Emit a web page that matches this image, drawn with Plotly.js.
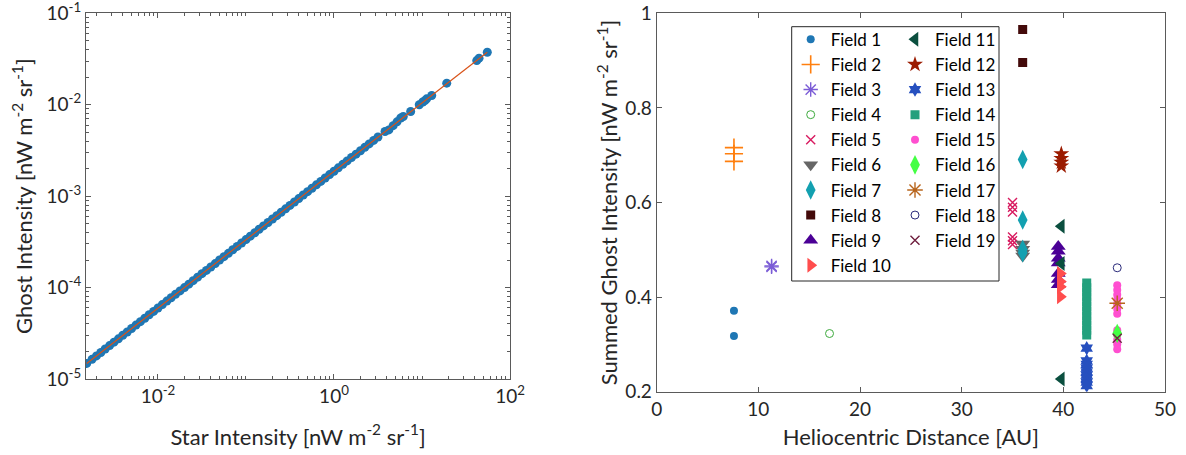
<!DOCTYPE html>
<html>
<head>
<meta charset="utf-8">
<script src="https://cdn.plot.ly/plotly-3.0.1.min.js"></script>
<style>html,body{margin:0;padding:0;background:#fff;}#chart{width:1186px;height:455px;}</style>
</head>
<body>
<div id="chart"></div>
<script>
// ---------- Left panel: star intensity vs ghost intensity ----------
const starIntensity = [0.00155,0.00178,0.00200,0.00224,0.00251,0.00282,0.00316,0.00355,0.00398,0.00447,
  0.00501,0.00562,0.00631,0.00708,0.00794,0.00891,0.0100,0.0112,0.0126,0.0141,0.0158,0.0178,0.0200,0.0224,
  0.0251,0.0282,0.0316,0.0355,0.0398,0.0447,0.0501,0.0562,0.0631,0.0708,0.0794,0.0891,0.100,0.112,0.126,
  0.141,0.158,0.178,0.200,0.224,0.251,0.282,0.316,0.355,0.398,0.447,0.501,0.562,0.631,0.708,0.794,0.891,
  1.00,1.12,1.26,1.41,1.58,1.78,2.00,2.24,2.51,2.82,3.16,3.80,4.2,4.7,5.2,5.73,6.13,7.44,9.31,10.2,10.8,
  11.3,12.9,19.1,41.9,44.5,55.2];
const ghostIntensity = [1.48e-5,1.64e-5,1.79e-5,1.95e-5,2.13e-5,2.32e-5,2.53e-5,2.75e-5,3.01e-5,3.27e-5,
  3.57e-5,3.89e-5,4.24e-5,4.62e-5,5.04e-5,5.49e-5,5.98e-5,6.52e-5,7.11e-5,7.75e-5,8.44e-5,9.20e-5,1.00e-4,
  1.09e-4,1.19e-4,1.30e-4,1.42e-4,1.54e-4,1.68e-4,1.83e-4,2.00e-4,2.18e-4,2.37e-4,2.59e-4,2.82e-4,3.07e-4,
  3.35e-4,3.65e-4,3.98e-4,4.34e-4,4.73e-4,5.15e-4,5.62e-4,6.12e-4,6.67e-4,7.27e-4,7.92e-4,8.63e-4,9.41e-4,
  1.03e-3,1.12e-3,1.22e-3,1.33e-3,1.45e-3,1.58e-3,1.72e-3,1.87e-3,2.04e-3,2.23e-3,2.43e-3,2.65e-3,2.88e-3,
  3.14e-3,3.42e-3,3.73e-3,4.07e-3,4.43e-3,5.09e-3,5.3e-3,5.9e-3,6.5e-3,7.15e-3,7.43e-3,8.43e-3,9.98e-3,
  1.07e-2,1.11e-2,1.16e-2,1.26e-2,1.72e-2,3.04e-2,3.23e-2,3.75e-2];
const fitStar = [0.00155, 55.2];
const fitGhost = [1.48e-5, 3.75e-2];

const leftXTickVals = [0.01, 1, 100];
const leftXTickText = ['10<sup>-2</sup>', '10<sup>0</sup>', '10<sup>2</sup>'];
const leftYTickVals = [1e-5, 1e-4, 1e-3, 1e-2, 1e-1];
const leftYTickText = ['10<sup>-5</sup>', '10<sup>-4</sup>', '10<sup>-3</sup>', '10<sup>-2</sup>', '10<sup>-1</sup>'];

// ---------- Right panel: summed ghost intensity by field ----------
const fieldNames = ['Field 1','Field 2','Field 3','Field 4','Field 5','Field 6','Field 7','Field 8','Field 9','Field 10',
  'Field 11','Field 12','Field 13','Field 14','Field 15','Field 16','Field 17','Field 18','Field 19'];
const field1 = {x: [7.6, 7.6], y: [0.371, 0.318]};
const field2 = {x: [7.6, 7.6, 7.6], y: [0.716, 0.703, 0.687]};
const field3 = {x: [11.3, 11.3], y: [0.466, 0.464]};
const field4 = {x: [17.0], y: [0.323]};
const field5 = {x: [35.0, 35.0, 35.0, 35.0, 35.0, 35.0], y: [0.600, 0.590, 0.580, 0.527, 0.519, 0.511]};
const field6 = {x: [36.0, 36.0, 36.0, 36.0], y: [0.512, 0.501, 0.493, 0.487]};
const field7 = {x: [36.0, 36.0, 36.0, 36.0], y: [0.691, 0.563, 0.501, 0.494]};
const field8 = {x: [36.0, 36.0], y: [0.966, 0.896]};
const field9 = {x: [39.5, 39.5, 39.5, 39.5, 39.5, 39.5, 39.5], y: [0.507, 0.497, 0.482, 0.472, 0.450, 0.437, 0.426]};
const field10 = {x: [39.7, 39.7, 39.7, 39.7], y: [0.450, 0.433, 0.422, 0.401]};
const field11 = {x: [39.8, 39.8, 39.8], y: [0.550, 0.471, 0.227]};
const field12 = {x: [39.8, 39.8, 39.8, 39.8], y: [0.703, 0.693, 0.685, 0.677]};
const field13 = {x: [42.3, 42.3, 42.3, 42.3, 42.3, 42.3, 42.3, 42.3, 42.3], y: [0.292, 0.265, 0.258, 0.250, 0.242, 0.235, 0.228, 0.220, 0.213]};
const field14 = {x: [42.3, 42.3, 42.3, 42.3, 42.3, 42.3, 42.3, 42.3, 42.3, 42.3, 42.3, 42.3], y: [0.430, 0.420, 0.410, 0.400, 0.390, 0.380, 0.370, 0.360, 0.350, 0.340, 0.330, 0.320]};
const field15 = {x: [45.3, 45.3, 45.3, 45.3, 45.3, 45.3, 45.3, 45.3, 45.3, 45.3, 45.3, 45.3], y: [0.425, 0.415, 0.405, 0.395, 0.385, 0.375, 0.365, 0.330, 0.320, 0.310, 0.300, 0.290]};
const field16 = {x: [45.3], y: [0.323]};
const field17 = {x: [45.3], y: [0.387]};
const field18 = {x: [45.3], y: [0.462]};
const field19 = {x: [45.3], y: [0.313]};
const fieldData = [field1, field2, field3, field4, field5, field6, field7, field8, field9, field10,
  field11, field12, field13, field14, field15, field16, field17, field18, field19];

const rightYTickVals = [0.2, 0.4, 0.6, 0.8, 1];
const rightYTickText = ['0.2', '0.4', '0.6', '0.8', '1'];
const rightXTickVals = [0, 10, 20, 30, 40, 50];

// marker styles (presentation)
const fieldStyles = [
  {symbol: 'circle', color: '#1f77b4', size: 8},
  {symbol: 'cross-thin-open', color: '#FF7F0E', size: 13, lw: 1.6},
  {symbol: 'asterisk-open', color: '#7B5CD6', size: 12, lw: 1.4},
  {symbol: 'circle-open', color: '#3DAA3D', size: 8, lw: 1},
  {symbol: 'x-thin-open', color: '#D81B60', size: 9, lw: 1.4},
  {symbol: 'triangle-down', color: '#666666', size: 13},
  {symbol: 'diamond-tall', color: '#13A0B0', size: 14},
  {symbol: 'square', color: '#430A0A', size: 9},
  {symbol: 'triangle-up', color: '#4B0096', size: 13},
  {symbol: 'triangle-right', color: '#FF4D4D', size: 13},
  {symbol: 'triangle-left', color: '#0B4F3F', size: 13},
  {symbol: 'star', color: '#9B1B00', size: 12},
  {symbol: 'hexagram', color: '#2650BF', size: 11},
  {symbol: 'square', color: '#23A07D', size: 9},
  {symbol: 'circle', color: '#FF4FD0', size: 8},
  {symbol: 'diamond-tall', color: '#44FF44', size: 14},
  {symbol: 'asterisk-open', color: '#B8651D', size: 13, lw: 1.4},
  {symbol: 'circle-open', color: '#2A2A7A', size: 8, lw: 1},
  {symbol: 'x-thin-open', color: '#702040', size: 9, lw: 1.4}
];

const FONT = 'Lato, "Open Sans", sans-serif';
const TXT = '#262626';
const AX = '#5a5a5a';
const TICK_SIZE = 19;
const TITLE_SIZE = 22;

const traces = [];
traces.push({x: starIntensity, y: ghostIntensity, type: 'scatter', mode: 'markers', xaxis: 'x', yaxis: 'y',
  marker: {color: '#1f77b4', size: 9}, showlegend: false, hoverinfo: 'skip'});
traces.push({x: fitStar, y: fitGhost, type: 'scatter', mode: 'lines', xaxis: 'x', yaxis: 'y',
  line: {color: '#D95319', width: 1.2}, showlegend: false, hoverinfo: 'skip'});

fieldData.forEach(function(d, i) {
  const s = fieldStyles[i];
  const m = {symbol: s.symbol, color: s.color, size: s.size};
  if (s.lw) m.line = {color: s.color, width: s.lw}; else m.line = {width: 0};
  traces.push({x: d.x, y: d.y, type: 'scatter', mode: 'markers', name: fieldNames[i],
    xaxis: 'x2', yaxis: 'y2', marker: m, legend: i < 10 ? 'legend' : 'legend2'});
});

function axisBase() {
  return {showline: true, linecolor: AX, linewidth: 1, mirror: 'ticks', ticks: 'inside', ticklen: 5,
    tickcolor: AX, tickwidth: 1, showgrid: false, zeroline: false, ticklabeloverflow: 'allow',
    tickfont: {family: FONT, size: TICK_SIZE, color: TXT}, fixedrange: true};
}

const W = 1186, H = 455;
const layout = {
  width: W, height: H, margin: {l: 0, r: 0, t: 0, b: 0}, paper_bgcolor: '#fff', plot_bgcolor: '#fff',
  font: {family: FONT, color: TXT},
  xaxis: Object.assign(axisBase(), {type: 'log', domain: [86 / W, 510 / W], range: [-2.818, 2],
    tickvals: leftXTickVals, ticktext: leftXTickText, anchor: 'y',
    minor: {ticks: 'inside', ticklen: 3, tickcolor: AX, dtick: 'D1', showgrid: false},
    title: {text: 'Star Intensity [nW m<sup>-2</sup> sr<sup>-1</sup>]', font: {family: FONT, size: TITLE_SIZE, color: TXT}, standoff: 23}}),
  yaxis: Object.assign(axisBase(), {type: 'log', domain: [1 - 379 / H, 1 - 13.3 / H], range: [-5, -1],
    tickvals: leftYTickVals, ticktext: leftYTickText, anchor: 'x',
    minor: {ticks: 'inside', ticklen: 3, tickcolor: AX, dtick: 'D1', showgrid: false},
    title: {text: 'Ghost Intensity [nW m<sup>-2</sup> sr<sup>-1</sup>]', font: {family: FONT, size: TITLE_SIZE, color: TXT}, standoff: 7}}),
  xaxis2: Object.assign(axisBase(), {domain: [656.7 / W, 1165 / W], range: [0, 50], anchor: 'y2',
    tickvals: rightXTickVals,
    title: {text: 'Heliocentric Distance [AU]', font: {family: FONT, size: TITLE_SIZE, color: TXT}, standoff: 11}}),
  yaxis2: Object.assign(axisBase(), {domain: [1 - 391.7 / H, 1 - 13.3 / H], range: [0.2, 1], anchor: 'x2',
    tickvals: rightYTickVals, ticktext: rightYTickText,
    title: {text: 'Summed Ghost Intensity [nW m<sup>-2</sup> sr<sup>-1</sup>]', font: {family: FONT, size: TITLE_SIZE, color: TXT}, standoff: 1}}),
  legend: {x: 790.7 / W, y: 1 - 21.8 / H, xanchor: 'left', yanchor: 'top', bgcolor: 'rgba(0,0,0,0)', borderwidth: 0,
    font: {family: FONT, size: 17, color: '#000'}, itemclick: false, itemdoubleclick: false},
  legend2: {x: 895 / W, y: 1 - 21.8 / H, xanchor: 'left', yanchor: 'top', bgcolor: 'rgba(0,0,0,0)', borderwidth: 0,
    font: {family: FONT, size: 17, color: '#000'}, itemclick: false, itemdoubleclick: false},
  shapes: [{type: 'rect', xref: 'paper', yref: 'paper', x0: 791.7 / W, x1: 999 / W, y0: 1 - 281 / H, y1: 1 - 26.7 / H,
    line: {color: '#262626', width: 1}, fillcolor: '#fff', layer: 'above'}]
};

Plotly.newPlot('chart', traces, layout, {displayModeBar: false, staticPlot: true});
</script>
</body>
</html>
